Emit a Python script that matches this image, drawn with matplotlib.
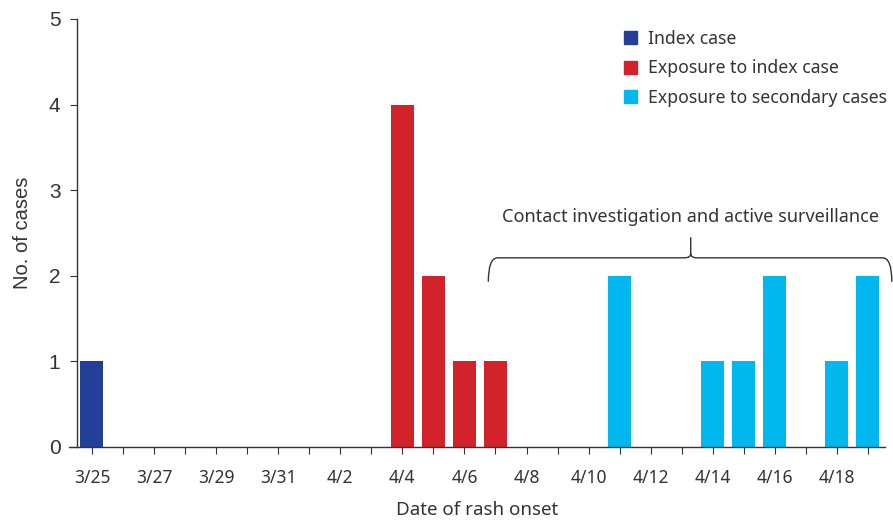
import numpy as np
import matplotlib.pyplot as plt
from matplotlib.path import Path
from matplotlib.patches import PathPatch, Patch

# dates 3/25 .. 4/19
dates = ['3/25', '3/26', '3/27', '3/28', '3/29', '3/30', '3/31', '4/1', '4/2', '4/3',
         '4/4', '4/5', '4/6', '4/7', '4/8', '4/9', '4/10', '4/11', '4/12', '4/13',
         '4/14', '4/15', '4/16', '4/17', '4/18', '4/19']
index_case = [1, 0, 0, 0, 0, 0, 0, 0, 0, 0, 0, 0, 0, 0, 0, 0, 0, 0, 0, 0, 0, 0, 0, 0, 0, 0]
exposure_index = [0, 0, 0, 0, 0, 0, 0, 0, 0, 0, 4, 2, 1, 1, 0, 0, 0, 0, 0, 0, 0, 0, 0, 0, 0, 0]
exposure_secondary = [0, 0, 0, 0, 0, 0, 0, 0, 0, 0, 0, 0, 0, 0, 0, 0, 0, 2, 0, 0, 1, 1, 2, 0, 1, 2]

c_index = '#233f99'
c_red = '#d2232a'
c_cyan = '#00b7ee'
txt = '#333333'

fig = plt.figure(figsize=(8.93, 5.22), dpi=100)
ax = fig.add_axes([69/893, 75/522, (885-69)/893, (447-19)/522])

x = np.arange(len(dates))
w = 0.74
ax.bar(x, index_case, w, color=c_index)
ax.bar(x, exposure_index, w, color=c_red)
ax.bar(x, exposure_secondary, w, color=c_cyan)

ax.set_xlim(-0.74, 25.55)
ax.set_ylim(0, 5)
ax.spines['top'].set_visible(False)
ax.spines['right'].set_visible(False)
ax.spines['left'].set_position(('data', -0.48))
ax.spines['left'].set_bounds(0, 5)
for s in ['left', 'bottom']:
    ax.spines[s].set_color(txt)
    ax.spines[s].set_linewidth(1.0)

ax.set_xticks(x)
ax.set_xticklabels([d if i % 2 == 0 else '' for i, d in enumerate(dates)],
                   family='Noto Sans', fontsize=12.5, color=txt)
ax.tick_params(axis='x', length=5, pad=11, color=txt)
ax.set_yticks(range(6))
ax.set_yticklabels([str(v) for v in range(6)], family='Liberation Sans', fontsize=15, color=txt)
ax.tick_params(axis='y', length=5, pad=7, color=txt)

ax.set_xlabel('Date of rash onset', family='Noto Sans', fontsize=13.5, color=txt, labelpad=10)
ax.set_ylabel('No. of cases', family='Liberation Sans', fontsize=14.5, color=txt, labelpad=12)

# brace
x0, x1, xc = 12.77, 25.77, 19.29
yb, yl, yt = 1.93, 2.21, 2.45
verts = [(x0, yb), (x0, yl), (x0 + 0.3, yl),
         (xc - 0.2, yl), (xc, yl), (xc, yl + 0.05), (xc, yt),
         (xc, yl + 0.05), (xc, yl), (xc + 0.2, yl),
         (x1 - 0.3, yl), (x1, yl), (x1, yb)]
codes = [Path.MOVETO, Path.CURVE3, Path.CURVE3,
         Path.LINETO, Path.CURVE3, Path.CURVE3, Path.LINETO,
         Path.MOVETO, Path.CURVE3, Path.CURVE3,
         Path.LINETO, Path.CURVE3, Path.CURVE3]
ax.add_patch(PathPatch(Path(verts, codes), fill=False, edgecolor=txt, lw=1.0, clip_on=False))
ax.text(xc, 2.69, 'Contact investigation and active surveillance', ha='center', va='center',
        family='Noto Sans', fontsize=13, color=txt)

handles = [Patch(color=c_index, label='Index case'),
           Patch(color=c_red, label='Exposure to index case'),
           Patch(color=c_cyan, label='Exposure to secondary cases')]
leg = ax.legend(handles=handles, loc='upper right', bbox_to_anchor=(1.022, 1.012), frameon=False,
                prop={'family': 'Noto Sans', 'size': 12.7}, handlelength=0.75, handleheight=0.75,
                handletextpad=0.6, labelspacing=0.66)
for t in leg.get_texts():
    t.set_color(txt)

fig.savefig('out.png', dpi=100)
